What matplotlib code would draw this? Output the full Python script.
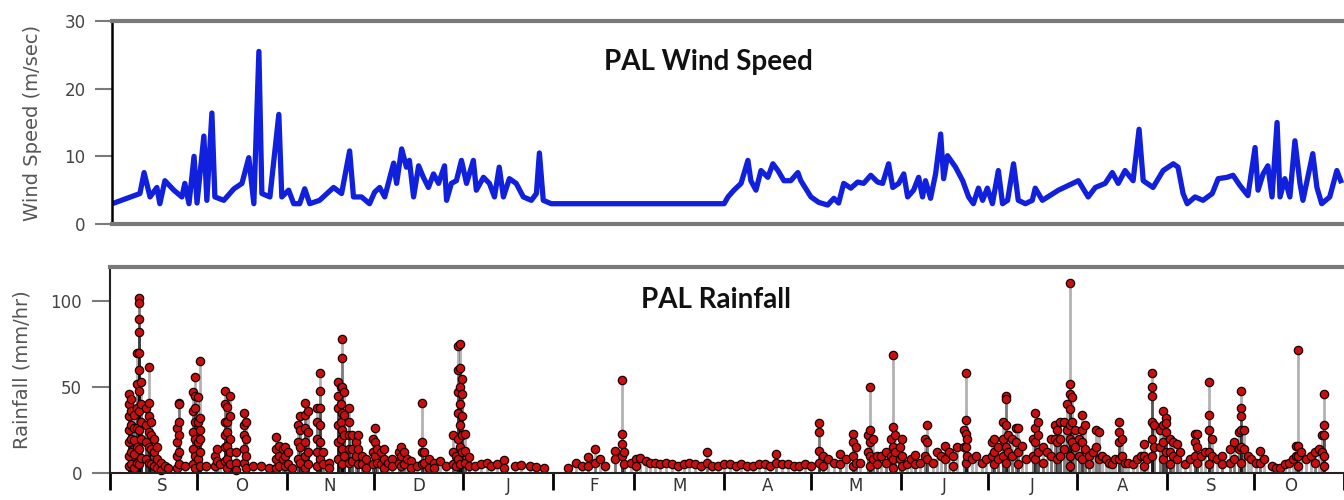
import numpy as np
import matplotlib
matplotlib.use("Agg")
from matplotlib import pyplot as plt

# days since 1 Sep (first season)
wind_day = [6.5, 15.2, 16.6, 18.6, 20.9, 21.9, 23.6, 26.6, 29.3, 30.3, 31.7, 33.4, 34.4,
            36.7, 37.7, 39.4, 40.4, 43.4, 46.8, 49.5, 51.8, 53.5, 55.2, 56.2, 58.9,
            61.9, 62.9, 65.2, 66.9, 68.9, 70.6, 72.3, 75.6, 80.3, 83.0, 85.7, 87.0,
            89.7, 92.4, 94.1, 95.8, 97.5, 100.5, 101.5, 103.2, 104.8, 105.8, 107.2,
            108.9, 110.5, 112.2, 113.9, 115.6, 117.6, 118.3, 119.9, 121.6, 123.3,
            125.0, 127.3, 128.3, 130.7, 132.7, 134.4, 136.0, 137.4, 139.4, 141.7,
            144.1, 146.8, 148.5, 149.5, 150.8, 153.5, 211.6, 212.9, 214.9, 217.3,
            219.6, 220.6, 222.3, 224.0, 226.3, 228.0, 229.7, 231.7, 234.0, 236.4,
            237.4, 240.8, 243.4, 246.4, 248.5, 250.1, 251.8, 254.2, 256.5, 258.5,
            260.9, 263.2, 264.9, 266.9, 268.3, 270.3, 272.0, 273.3, 275.3, 277.0,
            278.3, 279.3, 281.0, 282.7, 284.4, 285.4, 286.7, 289.4, 291.8, 293.8,
            295.4, 297.1, 298.5, 300.1, 301.8, 303.8, 305.2, 306.9, 308.9, 310.5,
            312.9, 315.2, 316.2, 318.6, 324.0, 330.7, 334.0, 336.4, 339.7, 342.1,
            344.1, 346.4, 349.1, 351.1, 352.5, 355.8, 359.2, 362.6, 364.2, 365.9,
            367.3, 369.9, 372.6, 375.7, 377.7, 380.7, 382.7, 385.0, 387.7, 390.1,
            391.1, 392.8, 394.4, 395.8, 397.5, 398.5, 400.1, 401.8, 403.5, 405.2,
            406.2, 409.5, 410.9, 412.5, 415.2, 417.6, 418.9]
wind_speed = [3.1, 4.5, 7.6, 4.0, 5.4, 3.0, 6.4, 5.0, 4.0, 6.0, 3.0, 10.0, 3.1,
              13.0, 3.5, 16.4, 4.0, 3.5, 5.2, 6.0, 9.8, 3.0, 25.5, 4.5, 4.0,
              16.2, 4.0, 5.0, 3.0, 3.0, 5.2, 3.0, 3.5, 5.4, 4.5, 10.8, 4.0,
              4.0, 3.0, 4.7, 5.4, 4.0, 9.0, 6.0, 11.1, 8.4, 9.4, 4.0,
              8.6, 6.9, 5.4, 7.4, 6.0, 8.6, 3.5, 6.0, 6.4, 9.4,
              6.0, 9.4, 5.0, 6.9, 6.0, 4.0, 8.4, 4.0, 6.7, 6.0,
              4.0, 3.5, 4.5, 10.5, 3.5, 3.0, 3.0, 4.0, 5.0, 6.0,
              9.4, 6.4, 5.0, 7.9, 6.9, 8.9, 7.9, 6.4, 6.4, 7.6,
              6.4, 4.0, 3.2, 2.8, 3.8, 3.1, 6.0, 5.3, 6.2, 6.0,
              7.2, 6.2, 6.0, 8.9, 5.4, 6.0, 7.4, 4.0, 5.0, 6.9,
              4.0, 6.4, 3.8, 7.4, 13.3, 6.7, 10.1, 8.4, 6.4, 4.0,
              3.0, 5.3, 3.5, 5.3, 3.0, 7.9, 3.0, 3.5, 8.9, 3.5,
              3.0, 3.5, 5.3, 3.5, 5.0, 6.4, 4.0, 5.4, 6.0, 7.6,
              6.0, 7.9, 6.4, 14.0, 6.4, 5.4, 7.9, 8.9, 8.4, 4.5,
              3.0, 4.0, 3.5, 4.5, 6.7, 6.9, 7.2, 5.7, 4.2, 11.3,
              5.0, 7.4, 8.6, 4.0, 15.0, 4.0, 6.7, 4.0, 12.3, 6.0,
              3.5, 10.4, 5.4, 3.0, 4.0, 7.9, 6.4]

# rainfall: hourly values grouped by the day they fall on
rain_day = [6.5, 7.3, 8.2, 9.4, 10.1, 10.8, 12.3, 13.4, 14.2, 15.3, 16.2, 17.5, 19.0, 20.0,
            23.1, 23.7, 26.0, 28.7, 29.4, 30.4, 31.2, 33.0, 36.2, 37.0, 38.0,
            39.6, 40.4, 41.6, 43.5, 46.2, 47.1, 49.5, 52.0, 55.0, 57.3, 58.3,
            59.6, 60.5, 61.5, 63.0, 64.8, 65.5, 67.3, 68.2, 71.6, 72.4, 73.5, 75.5,
            78.8, 79.6, 80.2, 80.9, 82.5, 83.4, 84.8, 85.6, 87.0, 88.5,
            90.8, 91.5, 92.3, 93.5, 94.5, 96.0, 97.5, 99.8, 100.6, 101.4, 102.5,
            104.0, 106.0, 107.6, 108.5, 110.0, 112.0, 114.0, 116.0, 118.5, 119.3,
            120.3, 121.0, 121.7, 122.5, 123.8, 126.0, 128.0, 130.0, 131.5, 133.5, 136.0,
            140.0, 142.0, 145.0, 147.0, 150.0, 158.0, 161.0, 163.0, 165.0, 167.5, 169.0, 171.0,
            174.4, 176.8, 177.5, 180.0, 181.5, 183.0, 185.0, 186.5, 188.0, 190.0, 192.0, 194.0,
            196.0, 198.0, 200.0, 202.0, 204.0, 206.0, 208.0, 210.0, 212.0, 214.0, 216.0,
            218.0, 220.0, 222.0, 224.0, 226.0, 228.0, 230.0, 232.0, 234.0, 236.0, 238.0,
            240.0, 242.0, 244.6, 246.0, 248.0, 250.0, 252.0, 254.0, 256.5, 257.5, 259.0,
            261.8, 262.5, 263.3, 264.8, 266.0, 268.0, 269.6, 270.3, 271.0, 272.6, 273.3,
            275.0, 276.5, 278.0, 279.5, 281.4, 282.0, 284.0, 285.5, 287.0, 288.2, 289.5,
            291.0, 292.5, 294.7, 295.4, 296.0, 297.5, 299.0, 301.0, 302.5, 304.4, 305.2,
            306.5, 308.3, 309.2, 310.0, 311.5, 312.8, 313.6, 315.0, 316.3, 318.5, 319.5,
            320.5, 322.0, 323.5, 325.0, 326.3, 327.0, 328.0, 329.2, 330.5, 331.3, 332.0,
            333.2, 334.5, 335.5, 336.6, 338.0, 339.5, 340.5, 341.3, 342.5, 344.0, 345.0,
            346.0, 347.0, 348.3, 349.2, 350.5, 351.5, 353.0, 354.5, 356.0, 357.0, 358.0,
            359.6, 360.5, 362.5, 363.6, 364.6, 365.8, 367.0, 368.2, 369.5, 371.0, 373.0,
            374.5, 375.4, 376.5, 378.0, 379.5, 380.6, 382.0, 384.0, 386.5, 388.0, 389.6,
            390.5, 391.4, 393.0, 394.0, 395.5, 397.0, 398.5, 401.0, 402.5, 404.0, 405.5,
            407.0, 408.5, 409.5, 410.2, 411.0, 413.0, 414.5, 416.0, 417.5, 418.5, 419.2]
rain_mm = [[46, 40, 33, 25, 18, 10, 4], [43, 36, 28, 20, 12, 5], [34, 26, 19, 11, 3],
           [70, 52, 38, 26, 15, 6], [102, 99, 90, 82, 70, 60, 48, 36, 25, 14, 5],
           [53, 40, 30, 20, 9], [38, 28, 18, 8], [62, 41, 33, 24, 15, 6], [30, 22, 14, 5],
           [20, 12, 4], [15, 8, 3], [6, 2], [4], [3],
           [26, 18, 10, 3], [41, 40, 30, 22, 12, 5], [4], [47, 36, 24, 14, 5],
           [56, 45, 38, 30, 20, 10, 3], [44, 30, 18, 8], [65, 32, 25, 20, 12, 4],
           [4], [10, 4], [14, 7], [5],
           [48, 40, 30, 22, 15, 7], [38.5, 30, 24, 16, 8, 3], [45, 33, 20, 12, 5],
           [12, 6, 2], [35, 28, 22, 14, 6], [30, 20, 10, 3], [4], [4], [3],
           [21, 14, 8, 3], [16, 10, 4],
           [14, 8], [15, 10, 4], [12, 5], [3], [28, 18, 8], [33, 25, 15, 6],
           [41, 34, 26, 18, 10, 3], [36, 24, 12, 5], [37.6, 30, 20, 12, 4],
           [58, 48, 38, 28, 18, 8], [12, 5], [6, 3],
           [53, 45, 38, 28, 18, 8], [50, 40, 30, 20], [78, 66.7, 50, 35, 25, 14, 5],
           [47, 34, 22, 10], [37.6, 30, 22, 14, 6], [22, 14, 7], [18, 10], [22, 14, 5],
           [10, 5], [8, 3],
           [20, 12, 5], [26, 18, 10], [14, 6], [12, 5], [14, 8, 3], [6], [8, 4],
           [12, 6], [15, 10, 4], [12, 5], [8],
           [7, 3], [4], [40.5, 18, 12, 5], [12, 6], [8, 3], [6, 3], [7], [4],
           [22, 12, 5], [10, 4],
           [74, 60, 47, 35, 20, 8], [75, 61, 50, 40, 28, 15, 5], [55, 46, 33, 22, 12],
           [23, 13, 6], [9.5, 4], [4], [5], [6], [4], [5], [7.5, 3],
           [4], [4.6], [4], [3.5], [3], [3], [5.6], [4], [9.5, 4], [14, 6], [8], [4],
           [13, 8], [54, 23, 17, 10], [12, 5], [6], [8, 4], [9], [7], [6], [6], [5],
           [6], [5],
           [4], [5], [6], [5], [4], [12, 6], [4], [4], [5], [5], [4],
           [5], [4], [4], [5], [5], [4], [11, 6], [5], [5], [4], [4],
           [5], [4], [29, 24, 13, 6], [10, 4], [8], [6], [11, 5], [8],
           [23, 18, 10, 4], [15, 6], [6],
           [22, 12], [50, 25, 18, 10, 4], [20, 8], [10, 5], [10], [12, 6], [20, 10],
           [68.6, 27, 15, 8, 3], [22, 12], [15, 8], [20, 10, 4],
           [5], [8], [10.5, 5], [6], [20, 10], [28, 18, 8], [6], [12], [10],
           [16, 8], [12],
           [10, 4], [15], [25, 15], [58, 31, 23, 15, 6], [20, 10], [8], [10], [6],
           [8], [18, 10], [20, 12, 5],
           [15, 8], [30, 20, 10], [45, 43, 28, 15, 6], [22, 12], [20, 10], [26, 18],
           [26, 12, 5], [16], [8], [20, 10], [35, 26, 18, 8],
           [30, 22, 12], [15, 6], [12], [20, 10], [28, 20], [25, 18, 8],
           [30, 20, 10], [30, 14], [40, 25], [110.7, 52, 46, 37, 28, 20, 10, 4],
           [44, 30, 18],
           [25, 15], [20, 10], [34, 25, 18, 8], [28, 14], [10, 5], [12], [25, 15],
           [24, 8], [10], [8], [6],
           [5], [8], [30, 24, 18, 8], [20, 10], [6], [6], [5], [8], [10], [17, 10, 4],
           [8],
           [58, 50, 45, 30, 20, 10], [28, 15], [25, 15], [36, 28, 18, 8],
           [32, 29, 24, 12], [20, 12, 5], [18, 10], [17, 8], [12], [5], [8],
           [23, 18, 10], [23, 15, 6], [10], [12], [53, 34, 25, 12, 5], [20, 10],
           [8], [10, 5], [14, 6], [18, 8], [24, 14],
           [48, 37.6, 33, 25, 15, 6], [25, 14], [10], [8], [6], [13, 6], [8], [4],
           [3], [3], [5],
           [6], [8], [16, 10], [71.5, 16, 10, 4], [12], [8], [10], [12, 6], [14],
           [22, 12], [46, 28, 22, 10, 4]]

month_start = [0, 30, 61, 91, 122, 153, 181, 212, 242, 273, 303, 334, 365, 395, 426]
month_label = ['S', 'O', 'N', 'D', 'J', 'F', 'M', 'A', 'M', 'J', 'J', 'A', 'S', 'O']

x_lo, x_hi = 5.8, 420
grey = '#7a7a7a'

# one point per hourly value
rx = np.repeat(rain_day, [len(v) for v in rain_mm])
ry = np.concatenate([np.array(v, dtype=float) for v in rain_mm])

fig = plt.figure(figsize=(13.44, 5), dpi=100)

# ---- wind speed ----
ax1 = fig.add_axes([0.0833, 0.552, 0.9167, 0.406])
ax1.plot(wind_day, wind_speed, color='#1020DD', lw=3.8, solid_joinstyle='round')
ax1.set_xlim(x_lo, x_hi)
ax1.set_ylim(0, 30)
ax1.set_yticks([0, 10, 20, 30])
ax1.set_xticks([])
ax1.set_ylabel('Wind Speed (m/sec)', color='#555555', fontsize=14, labelpad=16)
ax1.tick_params(axis='y', colors=grey, labelcolor='#444444', labelsize=12,
                length=12, width=1.5, pad=7)
ax1.spines['right'].set_visible(False)
for s in ['top', 'bottom']:
    ax1.spines[s].set_color(grey)
    ax1.spines[s].set_linewidth(3)
ax1.spines['left'].set_color('black')
ax1.spines['left'].set_linewidth(1.8)

# ---- rainfall ----
ax2 = fig.add_axes([0.0818, 0.054, 0.9182, 0.412])
# semi-transparent stems: a lone stem reads grey, stacked ones go black
ax2.vlines(rx, 0, ry, color='black', alpha=0.3, lw=2, zorder=1)
ax2.plot(rx, ry, 'o', ms=6, mfc='#C81010', mec='#1a0000', mew=0.9,
         zorder=2, clip_on=False)
ax2.set_xlim(x_lo, x_hi)
ax2.set_ylim(0, 120)
ax2.set_yticks([0, 50, 100])
ax2.set_ylabel('Rainfall (mm/hr)', color='#555555', fontsize=14, labelpad=14)
ax2.tick_params(axis='y', colors=grey, labelcolor='#444444', labelsize=12,
                length=13, width=1.5, pad=7)

# month boundaries as major ticks, month letters centred on visible span
ax2.set_xticks(month_start)
ax2.set_xticklabels([])
ax2.tick_params(axis='x', which='major', length=12, width=2, color='black')
mids = []
for a, b in zip(month_start[:-1], month_start[1:]):
    mids.append((max(a, x_lo) + min(b, x_hi)) / 2)
ax2.set_xticks(mids, minor=True)
ax2.set_xticklabels(month_label, minor=True)
ax2.tick_params(axis='x', which='minor', length=0, labelsize=12,
                labelcolor='#333333', pad=3)
ax2.spines['right'].set_visible(False)
ax2.spines['top'].set_color(grey)
ax2.spines['top'].set_linewidth(3)
ax2.spines['left'].set_color('#222222')
ax2.spines['left'].set_linewidth(1.5)
ax2.spines['bottom'].set_color('#222222')
ax2.spines['bottom'].set_linewidth(1.5)

fig.text(0.527, 0.876, 'PAL Wind Speed', ha='center', va='center',
         fontsize=20, fontweight='bold', family='Lato', color='#111111')
fig.text(0.533, 0.40, 'PAL Rainfall', ha='center', va='center',
         fontsize=20, fontweight='bold', family='Lato', color='#111111')

fig.savefig('out.png', dpi=100)
